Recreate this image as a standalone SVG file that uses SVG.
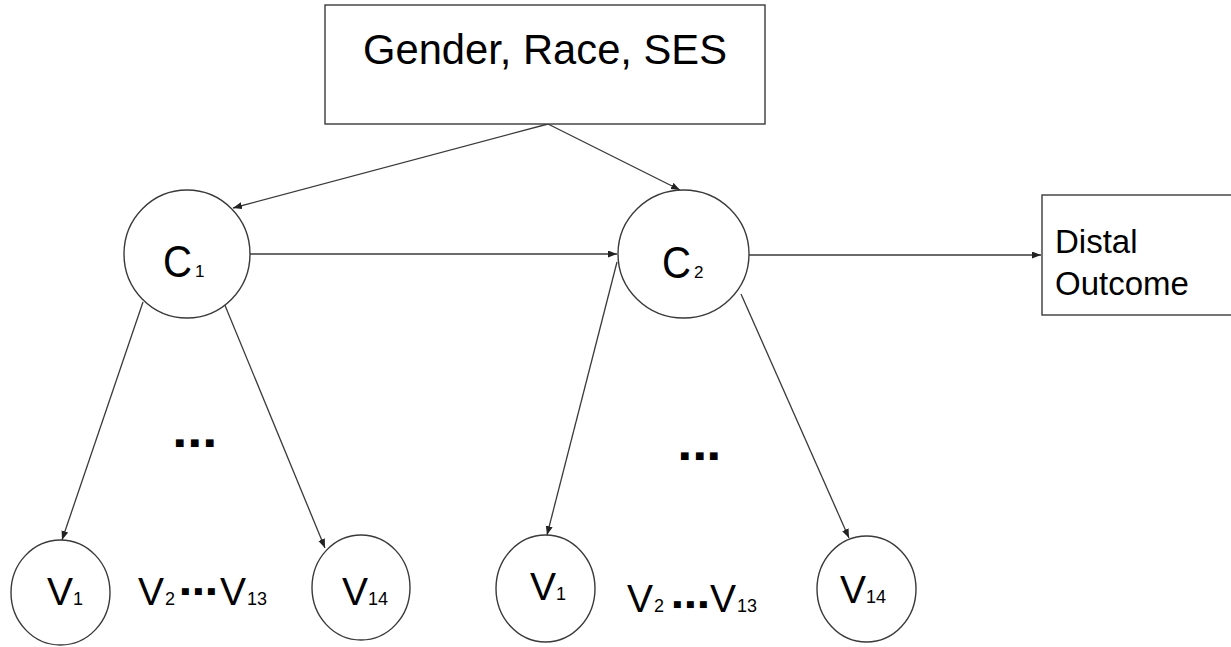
<svg xmlns="http://www.w3.org/2000/svg" width="1231" height="647" viewBox="0 0 1231 647">
<defs>
<style>
.shape{fill:#fff;stroke:#3a3a3a;stroke-width:1.4}
.edge{fill:none;stroke:#3a3a3a;stroke-width:1.3}
.t{font-family:"Liberation Sans",Arial,sans-serif;fill:#000}
.sq{font-family:"DejaVu Sans",sans-serif;fill:#000}
</style>
<marker id="arr" markerUnits="userSpaceOnUse" markerWidth="10" markerHeight="8" refX="9" refY="3.5" orient="auto">
<path d="M0,0 L9,3.5 L0,7 z" fill="#222"/>
</marker>
</defs>
<rect width="1231" height="647" fill="#fff"/>
<g id="connectors">
<line class="edge" x1="548" y1="124" x2="233" y2="208" marker-end="url(#arr)"/>
<line class="edge" x1="548" y1="124" x2="680" y2="190" marker-end="url(#arr)"/>
<line class="edge" x1="250" y1="254" x2="617" y2="254" marker-end="url(#arr)"/>
<line class="edge" x1="749" y1="255" x2="1041" y2="255" marker-end="url(#arr)"/>
<line class="edge" x1="143" y1="302" x2="62" y2="540" marker-end="url(#arr)"/>
<line class="edge" x1="224" y1="303" x2="325" y2="548" marker-end="url(#arr)"/>
<line class="edge" x1="617" y1="262" x2="547" y2="535" marker-end="url(#arr)"/>
<line class="edge" x1="741" y1="294" x2="849" y2="538" marker-end="url(#arr)"/>
</g>
<g id="covariates">
<rect class="shape" x="325" y="5" width="440" height="119"/>
<text class="t" x="545" y="64" font-size="42" text-anchor="middle" textLength="364" lengthAdjust="spacingAndGlyphs">Gender, Race, SES</text>
</g>
<g id="C1">
<ellipse class="shape" cx="187" cy="254" rx="63" ry="64"/>
<text class="t" x="163" y="277" font-size="44" textLength="29" lengthAdjust="spacingAndGlyphs">C</text>
<text class="t" x="195" y="277" font-size="17">1</text>
</g>
<g id="C2">
<ellipse class="shape" cx="683.5" cy="254" rx="65.5" ry="64"/>
<text class="t" x="662" y="278" font-size="44" textLength="29" lengthAdjust="spacingAndGlyphs">C</text>
<text class="t" x="694" y="278" font-size="17">2</text>
</g>
<g id="distal">
<rect class="shape" x="1042" y="195" width="200" height="120"/>
<text class="t" x="1055" y="253" font-size="33">Distal</text>
<text class="t" x="1055" y="295" font-size="33">Outcome</text>
</g>
<g id="dots1">
<text class="sq" x="175 190 205" y="446" font-size="10">■■■</text>
</g>
<g id="dots2">
<text class="sq" x="680 695 709" y="459" font-size="10">■■■</text>
</g>
<g id="V1a">
<ellipse class="shape" cx="60.5" cy="592.5" rx="49.5" ry="52.5"/>
<text class="t" x="47" y="605" font-size="39">V<tspan x="73" font-size="18">1</tspan></text>
</g>
<g id="V2to13a">
<text class="t" x="138" y="605" font-size="39">V<tspan x="165" font-size="18">2</tspan><tspan class="sq" x="181 194 207" y="594" font-size="9">■■■</tspan><tspan x="220" y="605" font-size="39">V</tspan><tspan x="247" font-size="18">13</tspan></text>
</g>
<g id="V14a">
<ellipse class="shape" cx="361" cy="587.5" rx="49" ry="52.5"/>
<text class="t" x="342" y="605" font-size="39">V<tspan x="368" font-size="18">14</tspan></text>
</g>
<g id="V1b">
<ellipse class="shape" cx="545.5" cy="588.5" rx="49.5" ry="53.5"/>
<text class="t" x="530" y="600" font-size="39">V<tspan x="556" font-size="18">1</tspan></text>
</g>
<g id="V2to13b">
<text class="t" x="627" y="612" font-size="39">V<tspan x="654" font-size="18">2</tspan><tspan class="sq" x="673 686 699" y="607" font-size="9">■■■</tspan><tspan x="710" y="612" font-size="39">V</tspan><tspan x="737" font-size="18">13</tspan></text>
</g>
<g id="V14b">
<ellipse class="shape" cx="866.5" cy="589" rx="49.5" ry="53"/>
<text class="t" x="840" y="603" font-size="39">V<tspan x="866" font-size="18">14</tspan></text>
</g>
</svg>
